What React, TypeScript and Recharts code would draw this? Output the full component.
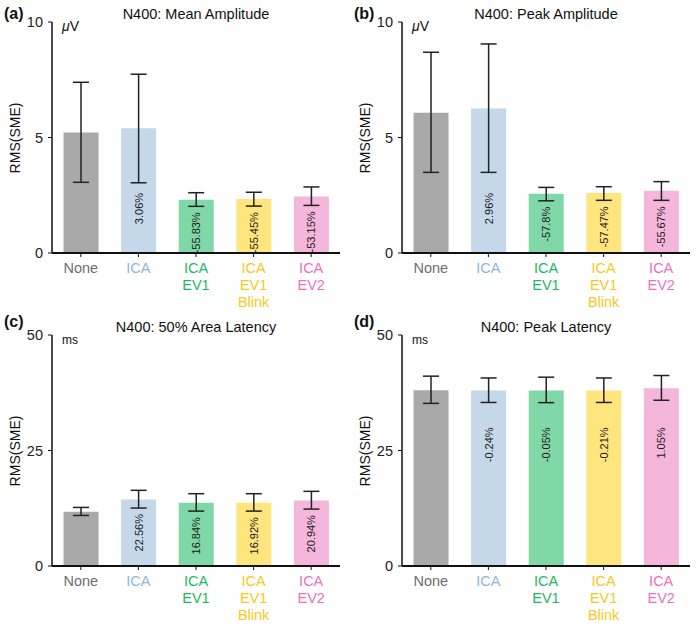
import React from "react";
import { BarChart, Bar, XAxis, YAxis, Cell, ErrorBar, LabelList } from "recharts";

const categories = ["None", "ICA", "ICA EV1", "ICA EV1 Blink", "ICA EV2"];
const tickLines = [["None"], ["ICA"], ["ICA", "EV1"], ["ICA", "EV1", "Blink"], ["ICA", "EV2"]];

const meanAmp = [5.22, 5.4, 2.31, 2.34, 2.45];
const meanAmpLow = [3.06, 3.04, 2.02, 2.03, 2.06];
const meanAmpHigh = [7.39, 7.74, 2.61, 2.63, 2.86];
const meanAmpPct = ["", "3.06%", "-55.83%", "-55.45%", "-53.15%"];

const peakAmp = [6.07, 6.26, 2.57, 2.6, 2.7];
const peakAmpLow = [3.49, 3.49, 2.26, 2.28, 2.28];
const peakAmpHigh = [8.69, 9.05, 2.84, 2.87, 3.09];
const peakAmpPct = ["", "2.96%", "-57.8%", "-57.47%", "-55.67%"];

const areaLat = [11.74, 14.42, 13.7, 13.7, 14.2];
const areaLatLow = [10.94, 12.54, 11.88, 11.88, 12.32];
const areaLatHigh = [12.68, 16.38, 15.65, 15.65, 16.16];
const areaLatPct = ["", "22.56%", "16.84%", "16.92%", "20.94%"];

const peakLat = [38.04, 37.97, 38.0, 37.97, 38.48];
const peakLatLow = [35.2, 35.4, 35.36, 35.4, 35.87];
const peakLatHigh = [41.09, 40.7, 40.87, 40.7, 41.23];
const peakLatPct = ["", "-0.24%", "-0.05%", "-0.21%", "1.05%"];

const barColors = ["#a9a9a9", "#c4d8ea", "#80d7a7", "#fee57e", "#f5b6dc"];
const tickColors = ["#6e6e6e", "#8db6de", "#1db862", "#f6c91c", "#ee6fc3"];

const FONT = "'Liberation Sans', Arial, Helvetica, sans-serif";
const W = 350;
const H = 314;
const M = { top: 22, right: 10, left: 12, bottom: 11 };
const XH = 50;
const PLOT_H = H - M.top - M.bottom - XH;

const XTick = (props: any) => {
  const { x, y, payload } = props;
  const i = categories.indexOf(payload.value);
  const lines = tickLines[i] || [];
  return (
    <text x={x} y={y + 14} textAnchor="middle" fill={tickColors[i]} fontSize={14.5} fontFamily={FONT}>
      {lines.map((l, k) => (
        <tspan key={k} x={x} dy={k === 0 ? 0 : 17}>
          {l}
        </tspan>
      ))}
    </text>
  );
};

function Panel(props: {
  tag: string;
  tagTop: number;
  title: string;
  unit: React.ReactNode;
  values: number[];
  low: number[];
  high: number[];
  pct: string[];
  max: number;
  labelFloor: number;
}) {
  const { tag, tagTop, title, unit, values, low, high, pct, max, labelFloor } = props;
  const data = categories.map((c, i) => ({
    name: c,
    value: values[i],
    err: [values[i] - low[i], high[i] - values[i]],
    pct: pct[i],
    low: low[i],
  }));

  const PctLabel = (p: any) => {
    const x = Number(p.x);
    const y = Number(p.y);
    const w = Number(p.width);
    const h = Number(p.height);
    const d = data[p.index];
    if (!d || !d.pct) return null;
    const cx = x + w / 2;
    const lowY = y + h - (d.low * h) / d.value;
    const top = Math.max(lowY + 6, M.top + labelFloor * PLOT_H);
    return (
      <text
        x={cx}
        y={top}
        transform={`rotate(-90 ${cx} ${top})`}
        textAnchor="end"
        dominantBaseline="central"
        fontSize={11}
        fill="#1a1a1a"
        fontFamily={FONT}
      >
        {d.pct}
      </text>
    );
  };

  return (
    <div style={{ position: "relative", width: W, height: H, fontFamily: FONT }}>
      <BarChart width={W} height={H} data={data} margin={M} barCategoryGap="20%">
        <XAxis
          dataKey="name"
          height={XH}
          interval={0}
          tick={<XTick />}
          tickSize={4}
          tickLine={{ stroke: "#111" }}
          axisLine={{ stroke: "#111", strokeWidth: 2 }}
        />
        <YAxis
          width={40}
          domain={[0, max]}
          ticks={[0, max / 2, max]}
          tickSize={4}
          tickMargin={5}
          tick={{ fill: "#222", fontSize: 14.5, fontFamily: FONT }}
          tickLine={{ stroke: "#111" }}
          axisLine={{ stroke: "#111", strokeWidth: 1.5 }}
        />
        <Bar dataKey="value" isAnimationActive={false}>
          {data.map((d, i) => (
            <Cell key={d.name} fill={barColors[i]} />
          ))}
          <ErrorBar dataKey="err" width={8} stroke="#222" strokeWidth={1.5} direction="y" />
          <LabelList dataKey="pct" content={PctLabel} />
        </Bar>
      </BarChart>
      <div style={{ position: "absolute", left: 4, top: tagTop, fontSize: 16, fontWeight: "bold", color: "#111" }}>{tag}</div>
      <div
        style={{
          position: "absolute",
          left: 52,
          width: 288,
          top: 6,
          textAlign: "center",
          fontSize: 14.5,
          color: "#111",
        }}
      >
        {title}
      </div>
      <div style={{ position: "absolute", left: 62, top: 17, color: "#111" }}>{unit}</div>
      <div
        style={{
          position: "absolute",
          left: 15,
          top: M.top + PLOT_H / 2,
          transform: "translate(-50%, -50%) rotate(-90deg)",
          fontSize: 14,
          color: "#111",
          whiteSpace: "nowrap",
        }}
      >
        RMS(SME)
      </div>
    </div>
  );
}

const uV = (
  <span style={{ fontSize: 14 }}>
    <i>μ</i>V
  </span>
);
const ms = <span style={{ fontSize: 12 }}>ms</span>;

export default function App() {
  return (
    <div style={{ position: "absolute", left: 0, top: 0, width: 700, height: 628, background: "#fff" }}>
      <div style={{ position: "absolute", left: 0, top: 0 }}>
        <Panel tag="(a)" tagTop={5} title="N400: Mean Amplitude" unit={uV} values={meanAmp} low={meanAmpLow} high={meanAmpHigh} pct={meanAmpPct} max={10} labelFloor={0.74} />
      </div>
      <div style={{ position: "absolute", left: 350, top: 0 }}>
        <Panel tag="(b)" tagTop={5} title="N400: Peak Amplitude" unit={uV} values={peakAmp} low={peakAmpLow} high={peakAmpHigh} pct={peakAmpPct} max={10} labelFloor={0.74} />
      </div>
      <div style={{ position: "absolute", left: 0, top: 313 }}>
        <Panel tag="(c)" tagTop={0} title="N400: 50% Area Latency" unit={ms} values={areaLat} low={areaLatLow} high={areaLatHigh} pct={areaLatPct} max={50} labelFloor={0.74} />
      </div>
      <div style={{ position: "absolute", left: 350, top: 313 }}>
        <Panel tag="(d)" tagTop={0} title="N400: Peak Latency" unit={ms} values={peakLat} low={peakLatLow} high={peakLatHigh} pct={peakLatPct} max={50} labelFloor={0.4} />
      </div>
    </div>
  );
}
